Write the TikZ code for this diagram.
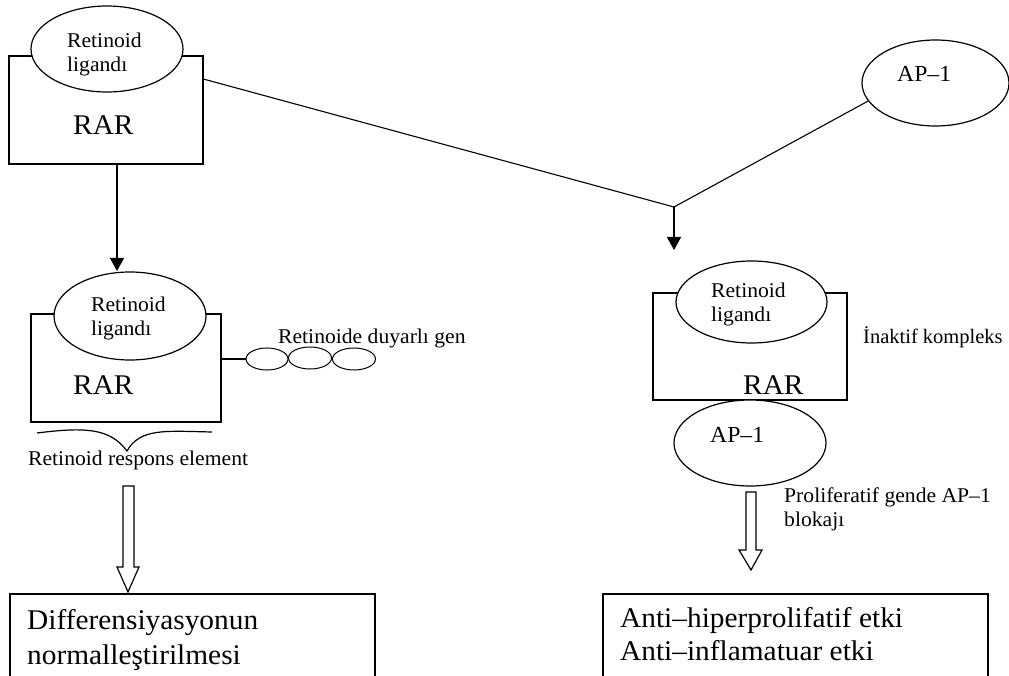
\documentclass[tikz,border=0pt]{standalone}
\usepackage{fontspec}
\setmainfont{Liberation Serif}[FakeStretch=1.03]
\newfontfamily\plainserif{Liberation Serif}
\usetikzlibrary{arrows.meta,calc,shapes.geometric}
\tikzset{
  boxline/.style={draw=black, line width=1.7pt},
  oval/.style={ellipse, draw=black, line width=1.2pt, fill=white, inner sep=0pt},
  conn/.style={draw=black, line width=1.1pt},
  tip/.style={-{Triangle[length=13pt,width=14pt]}},
  small/.style={font=\fontsize{21}{25}\selectfont, inner sep=0pt, align=left},
  mid/.style={font=\fontsize{23}{27}\selectfont, inner sep=0pt},
  big/.style={font=\fontsize{28.5}{34}\selectfont, inner sep=0pt, align=left},
  hollow/.style={draw=black, line width=1.2pt, fill=white},
}
\begin{document}
\begin{tikzpicture}[x=1pt,y=-1pt]
\clip (0,0) rectangle (1009,676);
\fill[white] (0,0) rectangle (1009,676);

% ---- top left complex
\node[boxline, minimum width=194pt, minimum height=108pt, inner sep=0pt] (rar1) at (106,110) {};
\node[oval, minimum width=152pt, minimum height=86pt] (lig1) at (107,49) {};
\node[small, anchor=north west] (lig1t) at (67,33) {Retinoid\\[-1pt]ligandı};
\node[big, anchor=base west] (rar1t) at (73,135) {RAR};

% ---- top right AP-1
\node[oval, minimum width=147pt, minimum height=86pt] (ap1) at (935.5,83) {};
\node[mid, anchor=base west] (ap1t) at (897,82) {AP–1};

% junction
\coordinate (j) at (674,207);
\coordinate (jend) at (674,250);
\draw[conn] ($(rar1.north east)+(0,24)$) -- (j);
\draw[conn] (ap1.195) -- (j);
\draw[conn, tip] (j) -- (jend);

% ---- middle left complex
\node[boxline, minimum width=190pt, minimum height=108pt, inner sep=0pt] (rar2) at (126,368) {};
\node[oval, minimum width=152pt, minimum height=88pt] (lig2) at (130,316) {};
\node[small, anchor=north west] (lig2t) at (91,297) {Retinoid\\[-1pt]ligandı};
\node[big, anchor=base west] (rar2t) at (73,394) {RAR};
\coordinate (a1) at (117,271);
\draw[conn, tip] (rar1.south -| a1) -- (a1);

% gene
\node[oval, minimum width=42pt, minimum height=22pt, line width=1pt] (g1) at (267,359) {};
\node[oval, minimum width=43pt, minimum height=22pt, line width=1pt] (g2) at (310,358) {};
\node[oval, minimum width=43pt, minimum height=22pt, line width=1pt] (g3) at (354,359) {};
\draw[conn] (rar2.east |- g1.west) -- (g1.west);
\node[small, anchor=base west] (gent) at (278,343) {Retinoide duyarlı gen};

% brace
\coordinate (b1) at (37,433);
\coordinate (b2) at (127,451);
\coordinate (b3) at (212,432);
\draw[line width=1.2pt] (b1) .. controls (85,427) and (110,428) .. (b2)
  .. controls (140,428) and (165,431) .. (b3);
\node[small, anchor=base west] (rret) at (28,465) {Retinoid respons element};

% left hollow arrow
\draw[hollow] (123,486) -- (134,486) -- (134,567) -- (139,567) -- (128,592)
  -- (117,567) -- (123,567) -- cycle;

% left bottom box
\node[boxline, minimum width=365pt, minimum height=120pt, inner sep=0pt, anchor=north west] (res1) at (9,593) {};
\node[big, anchor=north west] (res1t) at (27,609) {Differensiyasyonun\\[1pt]normalleştirilmesi};

% ---- middle right complex
\node[boxline, minimum width=194pt, minimum height=107pt, inner sep=0pt, line width=1.3pt] (rar3) at (750,346.5) {};
\node[oval, minimum width=151pt, minimum height=82pt] (lig3) at (751.5,302) {};
\node[small, anchor=north west] (lig3t) at (711,283) {Retinoid\\[-1pt]ligandı};
\node[big, anchor=base west] (rar3t) at (743,394) {RAR};
\node[small, anchor=base west, font=\plainserif\fontsize{20.5}{25}\selectfont] (inakt) at (863,343) {İnaktif kompleks};
\node[oval, minimum width=152pt, minimum height=86pt] (ap2) at (750,443) {};
\node[mid, anchor=base west] (ap2t) at (710,442) {AP–1};

% right hollow arrow
\draw[hollow] (746,492) -- (756,492) -- (756,550) -- (762,550) -- (751,570)
  -- (739,550) -- (746,550) -- cycle;
\node[small, anchor=north west] (prol) at (784,488) {Proliferatif gende AP–1\\[-1pt]blokajı};

% right bottom box
\node[boxline, minimum width=385pt, minimum height=120pt, inner sep=0pt, anchor=north west] (res2) at (602,593) {};
\node[big, anchor=north west] (res2t) at (620,607) {Anti–hiperprolifatif etki\\[-1pt]Anti–inflamatuar etki};
\end{tikzpicture}
\end{document}
